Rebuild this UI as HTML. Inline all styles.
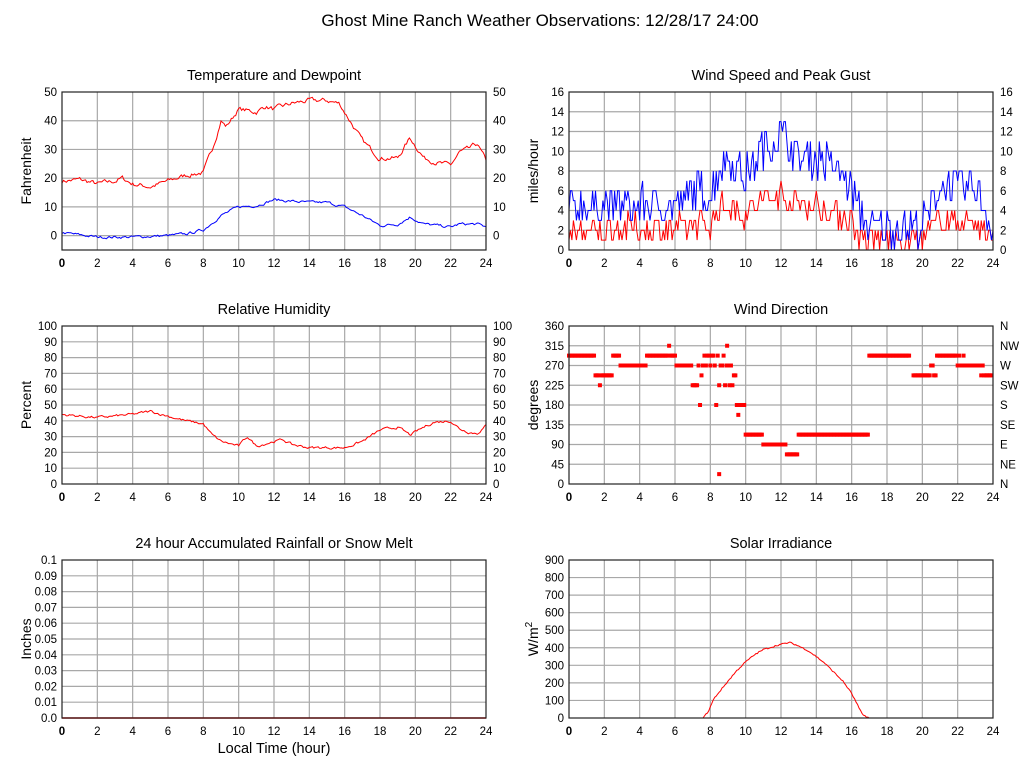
<!DOCTYPE html>
<html><head><meta charset="utf-8">
<style>
body{margin:0;background:#fff;}
svg{display:block;font-family:"Liberation Sans",sans-serif;}
</style></head><body>
<svg id="s" width="1027" height="772" xmlns="http://www.w3.org/2000/svg">
<text x="540" y="26" font-size="17" text-anchor="middle">Ghost Mine Ranch Weather Observations: 12/28/17 24:00</text>
</svg>
<script>
var S=document.getElementById('s'),NS='http://www.w3.org/2000/svg';
function el(t,a,txt){var e=document.createElementNS(NS,t);for(var k in a)e.setAttribute(k,a[k]);if(txt!==undefined)e.textContent=txt;S.appendChild(e);return e;}
var seed=7;function rnd(){seed=(seed*16807)%2147483647;return seed/2147483647;}
function interp(k,h){for(var i=0;i<k.length-1;i++){if(h>=k[i][0]&&h<=k[i+1][0]){var t=(h-k[i][0])/(k[i+1][0]-k[i][0]);return k[i][1]+t*(k[i+1][1]-k[i][1]);}}return k[k.length-1][1];}
function panel(o){
 var x0=o.x,y0=o.y,w=424,h=158,x1=x0+w,y1=y0+h;
 var Y=function(v){return y1-(v-o.min)/(o.max-o.min)*h;};
 var X=function(t){return x0+t/24*w;};
 o.X=X;o.Y=Y;
 for(var t=2;t<24;t+=2)el('line',{x1:X(t),y1:y0,x2:X(t),y2:y1,stroke:'#a8a8a8','stroke-width':1.2});
 o.ticks.forEach(function(v,i){var yy=Y(v);
  if(yy>y0+0.5&&yy<y1-0.5)el('line',{x1:x0,y1:yy,x2:x1,y2:yy,stroke:'#a8a8a8','stroke-width':1.2});
  el('text',{x:x0-5,y:yy+4,'font-size':11.5,'text-anchor':'end'},o.lab?o.lab[i]:v);
  if(!o.noright)el('text',{x:x1+7,y:yy+4,'font-size':11.5},o.rlab?o.rlab[i]:(o.lab?o.lab[i]:v));
 });
 for(var t=0;t<=24;t+=2)el('text',{x:X(t),y:y1+17,'font-size':11.5,'text-anchor':'middle','font-weight':t==0?'bold':'normal'},t);
 el('text',{x:x0+w/2,y:y0-12,'font-size':14.5,'text-anchor':'middle'},o.title);
 el('text',{x:0,y:0,'font-size':14,'text-anchor':'middle',transform:'translate('+(x0-31)+','+(y0+h/2)+') rotate(-90)'},o.ylab);
 return o;
}
function frame(o){el('rect',{x:o.x,y:o.y,width:424,height:158,fill:'none',stroke:'#222','stroke-width':1.2});}
function line(o,k,noise,col){var p=[];var prev=0;for(var i=0;i<=288;i++){var t=i/12;prev=prev*0.6+(rnd()-0.5)*noise;var v=interp(k,t)+prev;p.push(o.X(t).toFixed(1)+','+o.Y(v).toFixed(1));}
 el('polyline',{points:p.join(' '),fill:'none',stroke:col,'stroke-width':1});}
// Temperature
var A=panel({x:62,y:92,min:-5,max:50,ticks:[0,10,20,30,40,50],title:'Temperature and Dewpoint',ylab:'Fahrenheit'});
line(A,[[0,19],[1,19.5],[2,18],[3,19],[3.4,20],[4,18],[5,17],[6,19],[7,21],[8,22],[8.5,30],[9,40],[9.3,38],[10,44],[11,43],[11.5,45],[12,44],[13,46],[14,47],[15,47],[15.7,46],[16,43],[17,33],[18,27],[19,27],[19.7,34],[20.5,27],[21.5,25],[22,24.5],[22.5,29],[23,30],[23.5,32],[24,26]],1.4,'#f00');
line(A,[[0,1],[2,-0.5],[4,-0.5],[6,0],[7,0.5],[8,2],[9,7],[10,10],[11,10.5],[12,12.5],[13,12],[14,11.5],[15,11.5],[16,10],[17,7],[18,3.5],[19,4],[19.7,6.5],[20.5,4],[22,3],[22.5,4],[23.5,4],[24,3]],0.8,'#00f');
frame(A);
// Wind speed
var B=panel({x:569,y:92,min:0,max:16,ticks:[0,2,4,6,8,10,12,14,16],title:'Wind Speed and Peak Gust',ylab:'miles/hour'});
var bk=[[0,4],[6.5,4.2],[7,6],[8,5],[8.5,8],[9,9],[10,7],[11,10],[12,11.5],[13,9],[14,9],[15,8],[16,6],[16.5,3],[17,2],[20,2],[20.5,4],[21,6],[23,6],[23.5,4],[24,2]];
var pb=[],pr=[];
for(var i=0;i<=288;i++){var t=i/12;var b=Math.round(interp(bk,t)+(rnd()-0.4)*4);if(b<0)b=0;var r=Math.round(interp(bk,t)*0.5+(rnd()-0.5)*3);if(r<0)r=0;if(r>b)r=b;
 pb.push(B.X(t).toFixed(1)+','+B.Y(b).toFixed(1));pr.push(B.X(t).toFixed(1)+','+B.Y(r).toFixed(1));}
el('polyline',{points:pr.join(' '),fill:'none',stroke:'#f00','stroke-width':1});
el('polyline',{points:pb.join(' '),fill:'none',stroke:'#00f','stroke-width':1});
frame(B);
// RH
var C=panel({x:62,y:326,min:0,max:100,ticks:[0,10,20,30,40,50,60,70,80,90,100],title:'Relative Humidity',ylab:'Percent'});
line(C,[[0,44],[2,42],[4,44],[5,46],[6,43],[7,40],[8,38],[8.5,31],[9,27],[10,24],[10.5,30],[11,24],[12,27],[12.5,28],[13,25],[14,23],[16,23],[17,27],[18,34],[19,36],[19.7,31],[20.5,36],[21,39],[22,40],[22.5,35],[23,33],[23.5,32],[24,37]],1.4,'#f00');
frame(C);
// Wind direction
var D=panel({x:569,y:326,min:0,max:360,ticks:[0,45,90,135,180,225,270,315,360],rlab:['N','NE','E','SE','S','SW','W','NW','N'],title:'Wind Direction',ylab:'degrees'});
var segs=[[0,1.5,292.5],[1.5,2.5,247.5],[2.5,2.9,292.5],[2.9,4.4,270],[4.4,6,292.5],[6,7,270],[9.5,10,180],[10,11,112.5],[11,12.3,90],[12.3,13,67.5],[13,17,112.5],[17,19.3,292.5],[19.5,20.8,247.5],[20.8,22,292.5],[22,23.3,270],[23.3,24,247.5]];
for(var i=0;i<=288;i++){var t=i/12,v=null;
 for(var j=0;j<segs.length;j++)if(t>=segs[j][0]&&t<segs[j][1]){v=segs[j][2];if(rnd()<0.05)v+=(rnd()<0.5?-22.5:22.5);}
 if(v===null){if(t>=7&&t<9.5){var c=[225,247.5,270,292.5,270,247.5,292.5,225,180,270];v=c[Math.floor(rnd()*c.length)];}else continue;}
 el('rect',{x:D.X(t)-2,y:D.Y(v)-2,width:4,height:4,fill:'#f00'});}
el('rect',{x:D.X(8.5)-2,y:D.Y(22.5)-2,width:4,height:4,fill:'#f00'});
el('rect',{x:D.X(8.95)-2,y:D.Y(315)-2,width:4,height:4,fill:'#f00'});
frame(D);
// Rain
var E=panel({x:62,y:560,min:0,max:0.1,noright:1,ticks:[0,0.01,0.02,0.03,0.04,0.05,0.06,0.07,0.08,0.09,0.1],lab:['0.0','0.01','0.02','0.03','0.04','0.05','0.06','0.07','0.08','0.09','0.1'],title:'24 hour Accumulated Rainfall or Snow Melt',ylab:'Inches'});
el('line',{x1:62,y1:718,x2:486,y2:718,stroke:'#f00','stroke-width':1.5});
frame(E);
el('text',{x:274,y:753,'font-size':14.5,'text-anchor':'middle'},'Local Time (hour)');
// Solar
var F=panel({x:569,y:560,min:0,max:900,noright:1,ticks:[0,100,200,300,400,500,600,700,800,900],title:'Solar Irradiance',ylab:''});
var yl=el('text',{x:0,y:0,'font-size':14,'text-anchor':'middle',transform:'translate(538,639) rotate(-90)'});
yl.innerHTML='W/m<tspan dy="-6" font-size="10">2</tspan>';
var sk=[[0,0],[7.6,0],[7.9,40],[8.2,110],[9,210],[9.5,270],[10,320],[10.5,360],[11,390],[11.5,405],[12,420],[12.5,430],[13,410],[13.5,385],[14,350],[14.5,310],[15,260],[15.5,210],[16,140],[16.3,80],[16.6,20],[17,0],[24,0]];
var sp=[];for(var i=0;i<=288;i++){var t=i/12;var v=interp(sk,t);if(v>0)v+=(rnd()-0.5)*8;sp.push(F.X(t).toFixed(1)+','+F.Y(v).toFixed(1));}
el('polyline',{points:sp.join(' '),fill:'none',stroke:'#f00','stroke-width':1});
frame(F);
</script>
</body></html>
